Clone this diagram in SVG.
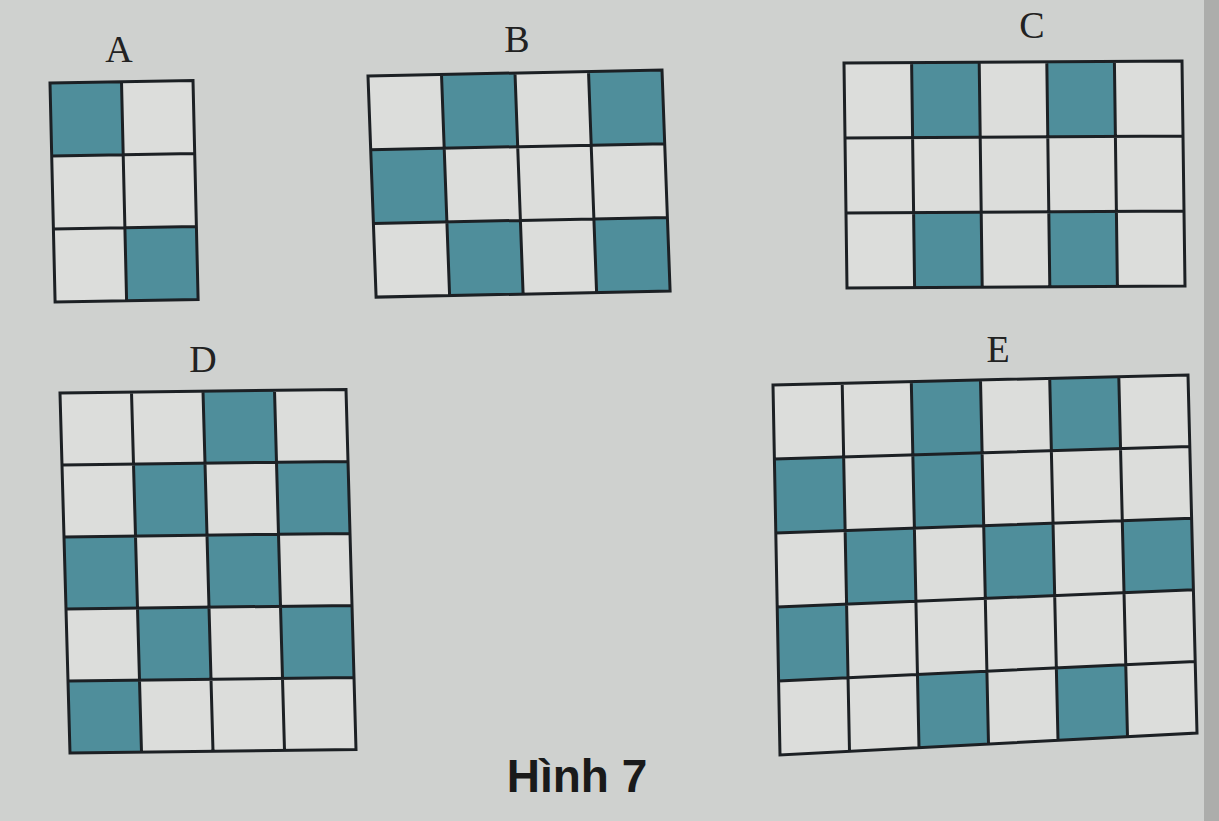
<svg xmlns="http://www.w3.org/2000/svg" width="1219" height="821" viewBox="0 0 1219 821">
<style>
.bg{fill:#dcdddb}
.sh{fill:#4f8e9b}
.ln{fill:none;stroke:#1c2024;stroke-width:3;stroke-linejoin:miter}
.lbl{font-family:"Liberation Serif",serif;font-size:38px;fill:#222;text-anchor:middle}
.cap{font-family:"Liberation Sans",Arial,sans-serif;font-size:46px;font-weight:bold;fill:#1a1a1a;text-anchor:middle}
</style>
<rect width="1219" height="821" fill="#cfd1cf"/>
<rect x="1204" y="0" width="15" height="821" fill="#acadab"/>

<g id="gridA">
<text class="lbl" x="119" y="62">A</text>
<g transform="matrix(71.5,-1.2,1.7,73,50,83)">
<rect class="bg" x="0" y="0" width="2" height="3"/>
<rect class="sh" x="0" y="0" width="1" height="1"/>
<rect class="sh" x="1" y="2" width="1" height="1"/>
<path class="ln" vector-effect="non-scaling-stroke" d="M0 0H2V3H0Z M1 0V3 M0 1H2 M0 2H2"/>
</g>
</g>

<g id="gridB">
<text class="lbl" x="517" y="52">B</text>
<g transform="matrix(73.5,-1.5,2.7,73.7,368,76)">
<rect class="bg" x="0" y="0" width="4" height="3"/>
<rect class="sh" x="1" y="0" width="1" height="1"/>
<rect class="sh" x="3" y="0" width="1" height="1"/>
<rect class="sh" x="0" y="1" width="1" height="1"/>
<rect class="sh" x="1" y="2" width="1" height="1"/>
<rect class="sh" x="3" y="2" width="1" height="1"/>
<path class="ln" vector-effect="non-scaling-stroke" d="M0 0H4V3H0Z M1 0V3 M2 0V3 M3 0V3 M0 1H4 M0 2H4"/>
</g>
</g>

<g id="gridC">
<text class="lbl" x="1032" y="38">C</text>
<g transform="matrix(67.6,-0.4,1,75,844,63)">
<rect class="bg" x="0" y="0" width="5" height="3"/>
<rect class="sh" x="1" y="0" width="1" height="1"/>
<rect class="sh" x="3" y="0" width="1" height="1"/>
<rect class="sh" x="1" y="2" width="1" height="1"/>
<rect class="sh" x="3" y="2" width="1" height="1"/>
<path class="ln" vector-effect="non-scaling-stroke" d="M0 0H5V3H0Z M1 0V3 M2 0V3 M3 0V3 M4 0V3 M0 1H5 M0 2H5"/>
</g>
</g>

<g id="gridD">
<text class="lbl" x="203" y="372">D</text>
<g transform="matrix(71.5,-0.9,2,72,60,393)">
<rect class="bg" x="0" y="0" width="4" height="5"/>
<rect class="sh" x="2" y="0" width="1" height="1"/>
<rect class="sh" x="1" y="1" width="1" height="1"/>
<rect class="sh" x="3" y="1" width="1" height="1"/>
<rect class="sh" x="0" y="2" width="1" height="1"/>
<rect class="sh" x="2" y="2" width="1" height="1"/>
<rect class="sh" x="1" y="3" width="1" height="1"/>
<rect class="sh" x="3" y="3" width="1" height="1"/>
<rect class="sh" x="0" y="4" width="1" height="1"/>
<path class="ln" vector-effect="non-scaling-stroke" d="M0 0H4V5H0Z M1 0V5 M2 0V5 M3 0V5 M0 1H4 M0 2H4 M0 3H4 M0 4H4"/>
</g>
</g>

<g id="gridE">
<text class="lbl" x="998" y="362">E</text>
<polygon class="bg" points="773,385 1188,375 1197,733 780,755"/>
<polygon class="sh" points="911.3,381.7 980.5,380 982.1,452.8 912.9,454.9"/>
<polygon class="sh" points="1049.7,378.3 1118.8,376.7 1120.6,448.7 1051.3,450.7"/>
<polygon class="sh" points="774.4,459 843.6,456.9 845.1,530.5 775.8,533"/>
<polygon class="sh" points="912.9,454.9 982.1,452.8 983.7,525.6 914.4,528.1"/>
<polygon class="sh" points="845.1,530.5 914.4,528.1 915.9,601.3 846.6,604.1"/>
<polygon class="sh" points="983.7,525.6 1053,523.1 1054.7,595.5 985.3,598.4"/>
<polygon class="sh" points="1122.3,520.7 1191.6,518.2 1193.4,589.8 1124,592.7"/>
<polygon class="sh" points="777.2,607 846.6,604.1 848,677.7 778.6,681"/>
<polygon class="sh" points="917.5,674.5 986.9,671.2 988.5,744 919,747.7"/>
<polygon class="sh" points="1056.3,667.9 1125.8,664.7 1127.5,736.7 1058,740.3"/>
<path class="ln" d="M773,385 L1188,375 L1197,733 L780,755 Z
M774.4,459 L1189.8,446.6
M775.8,533 L1191.6,518.2
M777.2,607 L1193.4,589.8
M778.6,681 L1195.2,661.4
M842.2,383.3 L849.5,751.3
M911.3,381.7 L919,747.7
M980.5,380 L988.5,744
M1049.7,378.3 L1058,740.3
M1118.8,376.7 L1127.5,736.7"/>
</g>

<g id="caption">
<text class="cap" x="577" y="792">Hình 7</text>
</g>
<g id="connectors"/>
</svg>
